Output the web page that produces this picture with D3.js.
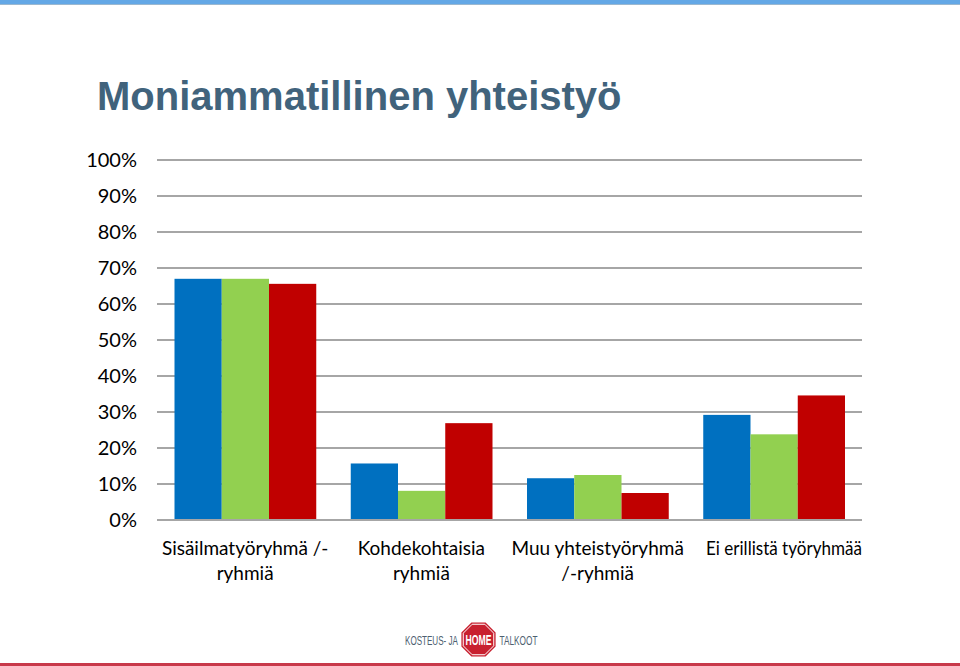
<!DOCTYPE html>
<html><head><meta charset="utf-8">
<script src="https://cdn.jsdelivr.net/npm/d3@7"></script>
<style>html,body{margin:0;padding:0;background:#fff;}svg{display:block;}</style>
</head><body>
<script>
const categories = [
  ["Sisäilmatyöryhmä /-", "ryhmiä"],
  ["Kohdekohtaisia", "ryhmiä"],
  ["Muu yhteistyöryhmä", "/-ryhmiä"],
  ["Ei erillistä työryhmää"]
];
const seriesBlue = [67, 15.7, 11.6, 29.2];
const seriesGreen = [67, 8.1, 12.5, 23.8];
const seriesRed = [65.6, 26.9, 7.5, 34.6];
const seriesColors = ["#0070c0", "#92d050", "#c00000"];
const yTicks = [0, 10, 20, 30, 40, 50, 60, 70, 80, 90, 100];
const titleText = "Moniammatillinen yhteistyö";

(function () {
const W = 960, H = 666;
const svg = d3.select("body").append("svg").attr("width", W).attr("height", H);

// top band
svg.append("rect").attr("x", 0).attr("y", 0).attr("width", W).attr("height", 4).attr("fill", "#64a8e6");
svg.append("rect").attr("x", 0).attr("y", 4).attr("width", W).attr("height", 1).attr("fill", "#9bb8d0");
// bottom red line
svg.append("rect").attr("x", 0).attr("y", 663).attr("width", W).attr("height", 3).attr("fill", "#c8394a");

// title
svg.append("text").attr("x", 97).attr("y", 110)
  .attr("font-family", "'Liberation Sans', Arial, sans-serif").attr("font-weight", "bold")
  .attr("font-size", 40).attr("fill", "#41637c").text(titleText);

const pL = 157, pR = 862, pT = 160, pB = 520;
const y = d3.scaleLinear().domain([0, 100]).range([pB, pT]);
const x0 = d3.scaleBand().domain(d3.range(categories.length)).range([pL, pR]).padding(0);
const x1 = d3.scaleBand().domain([0, 1, 2]).range([17.5, x0.bandwidth() - 17]).padding(0);

const fontLabel = "Lato, 'Open Sans', sans-serif";

// horizontally squeeze a text (anchored at its own x=0) to a target width via transform
function fitX(textSel, x, yPos, target) {
  const w = textSel.node().getComputedTextLength();
  const s = w > 0 ? target / w : 1;
  textSel.attr("transform", `translate(${x},${yPos}) scale(${s},1)`);
}

// grid
svg.append("g").selectAll("line").data(yTicks).join("line")
  .attr("x1", pL).attr("x2", pR)
  .attr("y1", d => y(d)).attr("y2", d => y(d))
  .attr("stroke", "#a6a6a6").attr("stroke-width", 2);

// y labels
svg.append("g").selectAll("text").data(yTicks).join("text")
  .attr("x", 137).attr("y", d => y(d)).attr("dy", "0.37em")
  .attr("text-anchor", "end").attr("font-family", fontLabel).attr("font-size", 20)
  .attr("fill", "#000").text(d => d + "%");

// bars
const series = [seriesBlue, seriesGreen, seriesRed];
const groups = svg.append("g").selectAll("g").data(categories.map((c, i) => i)).join("g")
  .attr("transform", i => `translate(${x0(i)},0)`);
groups.selectAll("rect").data(i => series.map((s, k) => ({k, v: s[i]}))).join("rect")
  .attr("x", d => x1(d.k)).attr("width", x1.bandwidth())
  .attr("y", d => y(d.v)).attr("height", d => y(0) - y(d.v))
  .attr("fill", d => seriesColors[d.k]);

// baseline
svg.append("line").attr("x1", pL).attr("x2", pR).attr("y1", y(0)).attr("y2", y(0))
  .attr("stroke", "#a6a6a6").attr("stroke-width", 2);

// x labels
const xl = svg.append("g").selectAll("text").data(categories).join("text")
  .attr("text-anchor", "middle").attr("font-family", fontLabel).attr("font-size", 19).attr("fill", "#000")
  .attr("transform", (d, i) => `translate(${x0(i) + x0.bandwidth() / 2},555)`);
xl.selectAll("tspan").data(d => d).join("tspan")
  .attr("x", 0).attr("y", (d, j) => j * 25).text(d => d);
// single-line label that overflows its band: squeeze so it ends at the plot's right edge
xl.filter(d => d.length === 1).each(function () {
  const target = 156;
  fitX(d3.select(this), pR - target / 2, 555, target);
});

// logo
const logo = svg.append("g");
const logoFont = "'Liberation Sans', Arial, sans-serif";
const k1 = logo.append("text").attr("x", 0).attr("y", 0).attr("font-family", logoFont)
  .attr("font-size", 12).attr("fill", "#4d6070").text("KOSTEUS- JA");
fitX(k1, 405, 645, 53);
const k2 = logo.append("text").attr("x", 0).attr("y", 0).attr("font-family", logoFont)
  .attr("font-size", 12).attr("fill", "#4d6070").text("TALKOOT");
fitX(k2, 499.5, 645, 38);
const cx = 478.5, cy = 639.5, R = 18.5;
const oct = d3.range(8).map(k => {
  const a = Math.PI / 8 + k * Math.PI / 4;
  return [cx + R * Math.cos(a), cy + R * Math.sin(a)];
});
logo.append("polygon").attr("points", oct.map(p => p.join(",")).join(" ")).attr("fill", "#c8202f");
const oct2 = d3.range(8).map(k => {
  const a = Math.PI / 8 + k * Math.PI / 4;
  return [cx + (R - 2) * Math.cos(a), cy + (R - 2) * Math.sin(a)];
});
logo.append("polygon").attr("points", oct2.map(p => p.join(",")).join(" ")).attr("fill", "none")
  .attr("stroke", "#fff").attr("stroke-width", 1);
const k3 = logo.append("text").attr("x", 0).attr("y", 0)
  .attr("font-family", logoFont).attr("font-weight", "bold")
  .attr("font-size", 14).attr("fill", "#fff").text("HOME");
fitX(k3, cx - 13, 645, 26);
})();
</script>
</body></html>
